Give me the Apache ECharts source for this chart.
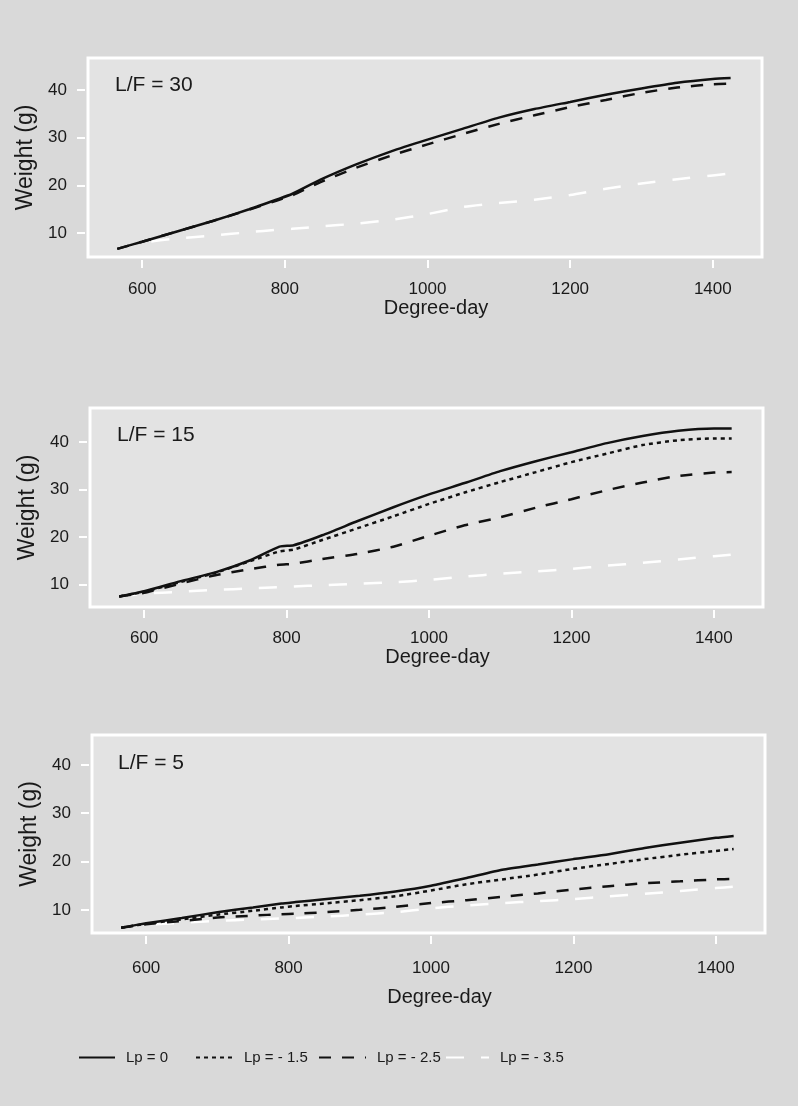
<!DOCTYPE html>
<html>
<head>
    <meta charset="UTF-8">
    <script src="https://cdn.jsdelivr.net/npm/echarts@6/dist/echarts.min.js"></script>
    <style>
        html, body { margin: 0; padding: 0; background: #d9d9d9; }
        #main { width: 798px; height: 1106px; }
    </style>
</head>
<body>
    <div id="main"></div>
    <script>
        // 数据：横轴 Degree-day，三个面板 L/F = 30 / 15 / 5
        var degreeDay = [565, 600, 650, 700, 750, 790, 810, 850, 900, 950, 1000, 1050, 1100, 1150, 1200, 1250, 1300, 1350, 1400, 1425];
        var seriesNames = ['Lp = 0', 'Lp = - 1.5', 'Lp = - 2.5', 'Lp = - 3.5'];
        var panelTitles = ['L/F = 30', 'L/F = 15', 'L/F = 5'];
        var xTicks = [600, 800, 1000, 1200, 1400];
        var yTicks = [10, 20, 30, 40];

        // L/F = 30 (no Lp = -1.5 curve in this panel)
        var lf30_lp0 = [6.7, 8.2, 10.4, 12.6, 15.0, 17.1, 18.2, 21.2, 24.4, 27.2, 29.6, 31.9, 34.2, 36.0, 37.5, 39.0, 40.3, 41.5, 42.3, 42.5];
        var lf30_lp25 = [6.7, 8.2, 10.4, 12.6, 14.9, 16.9, 17.9, 20.7, 23.7, 26.3, 28.6, 30.8, 32.9, 34.7, 36.4, 37.9, 39.4, 40.5, 41.2, 41.3];
        var lf30_lp35 = [6.7, 8.0, 8.9, 9.5, 10.2, 10.7, 10.9, 11.4, 12.0, 12.8, 14.0, 15.5, 16.3, 17.0, 18.0, 19.3, 20.4, 21.3, 22.1, 22.5];

        // L/F = 15
        var lf15_lp0 = [7.5, 8.6, 10.7, 12.6, 15.2, 18.0, 18.3, 20.4, 23.4, 26.3, 29.0, 31.4, 33.9, 36.0, 37.9, 39.8, 41.3, 42.4, 42.9, 42.9];
        var lf15_lp15 = [7.5, 8.5, 10.5, 12.5, 15.0, 17.0, 17.4, 19.4, 21.9, 24.4, 27.0, 29.4, 31.6, 33.7, 35.8, 37.6, 39.4, 40.4, 40.8, 40.8];
        var lf15_lp25 = [7.5, 8.3, 10.2, 12.0, 13.3, 14.2, 14.4, 15.4, 16.5, 18.0, 20.3, 22.5, 24.2, 26.2, 28.0, 29.9, 31.5, 32.9, 33.6, 33.7];
        var lf15_lp35 = [7.5, 8.1, 8.5, 8.9, 9.2, 9.5, 9.6, 9.9, 10.2, 10.5, 11.0, 11.7, 12.3, 12.8, 13.3, 14.0, 14.6, 15.3, 16.0, 16.3];

        // L/F = 5
        var lf5_lp0 = [6.3, 7.2, 8.3, 9.5, 10.5, 11.3, 11.6, 12.2, 12.9, 13.8, 15.0, 16.6, 18.3, 19.4, 20.5, 21.5, 22.8, 23.9, 24.9, 25.3];
        var lf5_lp15 = [6.3, 7.1, 8.0, 9.0, 9.8, 10.5, 10.8, 11.3, 12.0, 12.8, 14.0, 15.3, 16.3, 17.3, 18.5, 19.5, 20.5, 21.4, 22.2, 22.6];
        var lf5_lp25 = [6.3, 7.0, 7.7, 8.4, 8.8, 9.1, 9.2, 9.5, 10.0, 10.6, 11.4, 12.0, 12.7, 13.4, 14.2, 14.9, 15.5, 15.9, 16.3, 16.4];
        var lf5_lp35 = [6.3, 6.9, 7.3, 7.7, 8.0, 8.2, 8.3, 8.6, 9.0, 9.5, 10.3, 10.9, 11.4, 11.8, 12.2, 12.8, 13.3, 13.9, 14.5, 14.8];

        var panels = [
            { title: panelTitles[0], lines: [null, null, lf30_lp25, lf30_lp35], lp0: lf30_lp0 },
            { title: panelTitles[1], lines: [null, lf15_lp15, lf15_lp25, lf15_lp35], lp0: lf15_lp0 },
            { title: panelTitles[2], lines: [null, lf5_lp15, lf5_lp25, lf5_lp35], lp0: lf5_lp0 }
        ];

        // 面板位置
        var layout = [
            { left: 88, top: 58, width: 674, height: 199, yMin: 5.0, yMax: 46.7, titleLeft: 115, titleTop: 75, labelMargin: 21, nameGap: 36 },
            { left: 90, top: 408, width: 673, height: 199, yMin: 5.3, yMax: 47.2, titleLeft: 117, titleTop: 425, labelMargin: 20, nameGap: 33 },
            { left: 92, top: 735, width: 673, height: 198, yMin: 5.2, yMax: 46.2, titleLeft: 118, titleTop: 753, labelMargin: 24, nameGap: 51 }
        ];

        var lineStyles = [
            { color: '#111', width: 2.5, type: 'solid' },
            { color: '#111', width: 2.5, type: [4, 4] },
            { color: '#111', width: 2.5, type: [12, 11] },
            { color: '#ffffff', width: 2.5, type: [18, 17] }
        ];

        var textColor = '#1a1a1a';
        var fontFamily = '"Liberation Sans", Arial, Helvetica, sans-serif';

        function pairs(ys) {
            return degreeDay.map(function (x, i) { return [x, ys[i]]; });
        }

        var grids = [], xAxes = [], yAxes = [], titles = [], series = [];

        panels.forEach(function (p, k) {
            var L = layout[k];
            grids.push({
                left: L.left, top: L.top, width: L.width, height: L.height,
                show: true, backgroundColor: '#e3e3e3', borderColor: '#ffffff', borderWidth: 3
            });
            xAxes.push({
                gridIndex: k, type: 'value', min: 524, max: 1469, offset: 3,
                name: 'Degree-day', nameLocation: 'middle', nameGap: L.nameGap,
                nameTextStyle: { color: textColor, fontSize: 20, fontFamily: fontFamily, padding: [0, 0, 0, 22] },
                axisLine: { show: false },
                axisTick: { show: true, length: 8, customValues: xTicks, lineStyle: { color: '#ffffff', width: 2 } },
                axisLabel: {
                    customValues: xTicks, margin: L.labelMargin, color: textColor, fontSize: 17, fontFamily: fontFamily,
                    formatter: function (v) { return String(v); }
                },
                splitLine: { show: false }
            });
            yAxes.push({
                gridIndex: k, type: 'value', min: L.yMin, max: L.yMax, offset: 3,
                name: 'Weight (g)', nameLocation: 'middle', nameGap: 45,
                nameTextStyle: { color: textColor, fontSize: 23, fontFamily: fontFamily },
                axisLine: { show: false },
                axisTick: { show: true, length: 8, customValues: yTicks, lineStyle: { color: '#ffffff', width: 2 } },
                axisLabel: { customValues: yTicks, margin: 18, color: textColor, fontSize: 17, fontFamily: fontFamily },
                splitLine: { show: false }
            });
            titles.push({
                text: p.title, left: L.titleLeft, top: L.titleTop, padding: 0,
                textStyle: { color: textColor, fontSize: 21, fontWeight: 'normal', fontFamily: fontFamily }
            });
            // 白色虚线先画，黑线在上
            [3, 2, 1].forEach(function (j) {
                if (!p.lines[j]) return;
                series.push({
                    name: seriesNames[j], type: 'line', xAxisIndex: k, yAxisIndex: k,
                    data: pairs(p.lines[j]), symbol: 'none', silent: true, smooth: 0.2,
                    lineStyle: lineStyles[j], itemStyle: { color: lineStyles[j].color }
                });
            });
            series.push({
                name: seriesNames[0], type: 'line', xAxisIndex: k, yAxisIndex: k,
                data: pairs(p.lp0), symbol: 'none', silent: true, smooth: 0.2,
                lineStyle: lineStyles[0], itemStyle: { color: lineStyles[0].color }
            });
        });

        // 图例：四个独立位置
        var legendPos = [
            { left: 78, w: 36 },
            { left: 195, w: 37 },
            { left: 318, w: 47 },
            { left: 445, w: 43 }
        ];
        var legends = seriesNames.map(function (n, i) {
            return {
                data: [n], left: legendPos[i].left, top: 1050, padding: 0,
                itemWidth: legendPos[i].w, itemHeight: 14, selectedMode: false,
                itemStyle: { opacity: 0 },
                textStyle: { color: textColor, fontSize: 15, fontFamily: fontFamily, padding: [0, 0, 0, 6] }
            };
        });

        var myChart = echarts.init(document.getElementById('main'));
        var option = {
            backgroundColor: '#d9d9d9',
            animation: false,
            title: titles,
            legend: legends,
            grid: grids,
            xAxis: xAxes,
            yAxis: yAxes,
            series: series
        };
        myChart.setOption(option);
    </script>
</body>
</html>
